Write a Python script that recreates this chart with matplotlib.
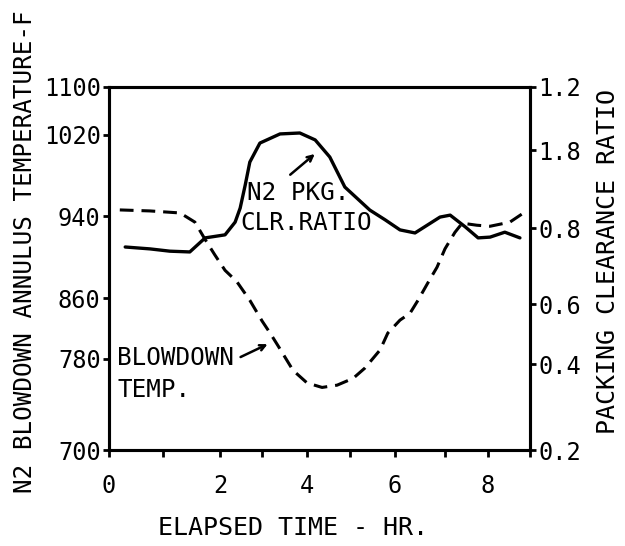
import numpy as np
import matplotlib
matplotlib.use('Agg')
import matplotlib.pyplot as plt

plt.rcParams['font.family'] = 'DejaVu Sans Mono'

# ---------------- data ----------------
time_clr = [0.30, 0.76, 1.12, 1.47, 1.74, 2.12, 2.36, 2.48, 2.60, 2.71, 2.95,
            3.40, 3.84, 4.19, 4.53, 4.88, 5.44, 5.78, 6.10, 6.40, 6.90, 7.12,
            7.47, 7.77, 8.05, 8.40, 8.76]
clr_ratio = [0.750, 0.745, 0.739, 0.737, 0.774, 0.782, 0.815, 0.851, 0.910,
             0.969, 1.022, 1.051, 1.054, 1.032, 0.982, 0.905, 0.846, 0.821,
             0.795, 0.787, 0.828, 0.833, 0.803, 0.774, 0.776, 0.789, 0.774]

time_temp = [0.20, 0.76, 1.30, 1.56, 1.74, 1.91, 2.12, 2.40, 2.71, 3.00, 3.18,
             3.36, 3.69, 4.00, 4.35, 4.70, 5.07, 5.33, 5.67, 5.84, 6.10, 6.30,
             6.46, 6.66, 6.84, 7.00, 7.23, 7.40, 7.74, 8.05, 8.52, 8.81]
blowdown_temp = [946, 945, 943, 934, 917, 902, 887, 876, 857, 830, 814, 797,
                 770, 759, 755, 757, 763, 772, 792, 814, 831, 840, 857, 875,
                 890, 908, 924, 933, 931, 930, 934, 942]

x_ticks = list(range(10))
x_ticklabels = ['0', '', '2', '', '4', '', '6', '', '8', '']
temp_ticks = [700, 780, 860, 940, 1020, 1100]
ratio_ticks = [0.2, 0.4, 0.6, 0.8, 1.0, 1.2]
ratio_ticklabels = ['0.2', '0.4', '0.6', '0.8', '1.8', '1.2']   # as printed

# hand drawn axes are not evenly spaced -> piecewise scales (pixel spacing of the ticks)
x_pos = [109, 163, 220, 262, 307, 350, 395, 445, 488, 530]
temp_pos = [0, 91, 152, 234, 315, 363]
ratio_pos = [0, 86, 146, 222, 300, 363]


def piecewise(knots, pos):
    return (lambda v: np.interp(v, knots, pos),
            lambda p: np.interp(p, pos, knots))


fig = plt.figure(figsize=(6.25, 5.46), dpi=100)
ax = fig.add_axes([109 / 625, 96 / 546, 421 / 625, 363 / 546])
ax2 = ax.twinx()

ax.set_xscale('function', functions=piecewise(x_ticks, x_pos))
ax.set_yscale('function', functions=piecewise(temp_ticks, temp_pos))
ax2.set_yscale('function', functions=piecewise(ratio_ticks, ratio_pos))

ax.plot(time_temp, blowdown_temp, color='black', lw=2.2, dashes=(4.5, 2.6))
ax2.plot(time_clr, clr_ratio, color='black', lw=2.4, solid_capstyle='round')

ax.set_xlim(0, 9)
ax.set_ylim(700, 1100)
ax2.set_ylim(0.2, 1.2)

ax.set_xticks(x_ticks)
ax.set_xticklabels(x_ticklabels)
ax.set_yticks(temp_ticks)
ax.set_yticklabels([str(t) for t in temp_ticks])
ax2.set_yticks(ratio_ticks)
ax2.set_yticklabels(ratio_ticklabels)
ax.minorticks_off()
ax2.minorticks_off()

for a in (ax, ax2):
    for s in a.spines.values():
        s.set_linewidth(2.2)
ax.tick_params(axis='y', direction='out', length=4, width=2, labelsize=17, pad=2)
ax.tick_params(axis='x', direction='out', length=5, width=2, labelsize=17, pad=12)
ax2.tick_params(axis='y', direction='out', length=4, width=2, labelsize=17, pad=2)

ax.set_xlabel('ELAPSED TIME - HR.', fontsize=18, va='center')
ax.xaxis.set_label_coords(0.437, -0.215)
ax.set_ylabel('N2 BLOWDOWN ANNULUS TEMPERATURE-F', fontsize=17.5, va='center')
ax.yaxis.set_label_coords(-0.20, 0.545)
ax2.set_ylabel('PACKING CLEARANCE RATIO', fontsize=18, va='center')
ax2.yaxis.set_label_coords(1.185, 0.52)

# annotations
ax.text(2.64, 963, 'N2 PKG.', fontsize=17.5, va='center', ha='left')
ax.text(2.48, 933, 'CLR.RATIO', fontsize=17.5, va='center', ha='left')
ax.annotate('', xy=(4.23, 1003), xytext=(3.58, 979),
            arrowprops=dict(arrowstyle='->', lw=1.8, color='black'))
ax.text(0.15, 781, 'BLOWDOWN', fontsize=17.5, va='center', ha='left')
ax.text(0.15, 753, 'TEMP.', fontsize=17.5, va='center', ha='left')
ax.annotate('', xy=(3.18, 801), xytext=(2.43, 781),
            arrowprops=dict(arrowstyle='->', lw=1.8, color='black'))

fig.savefig('out.png', dpi=100)
